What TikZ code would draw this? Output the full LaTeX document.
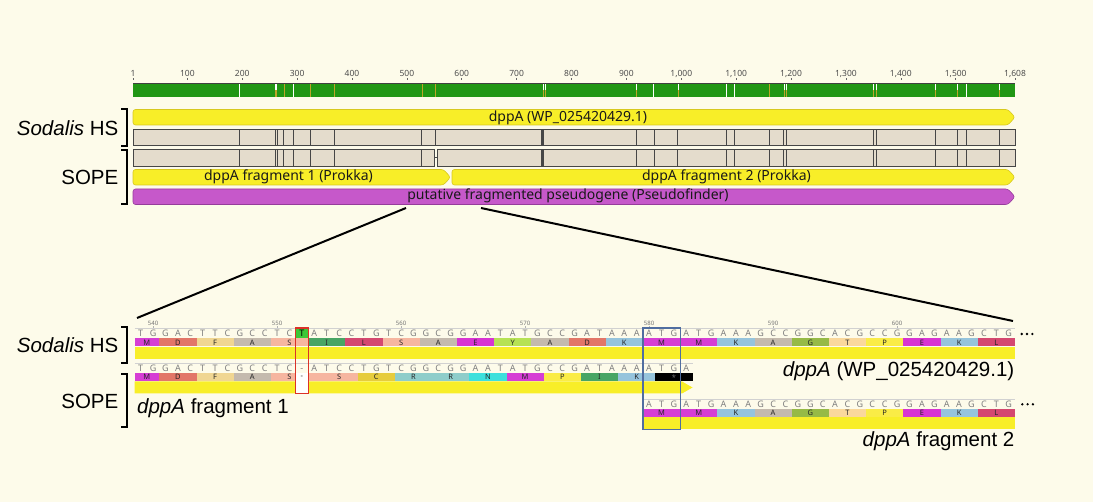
\documentclass[tikz,border=0pt]{standalone}
\usepackage{fontspec}
\setmainfont{Liberation Sans}
\newfontfamily\notosans{Noto Sans}
\definecolor{bgc}{RGB}{253,251,234}
\definecolor{rulergreen}{RGB}{33,150,20}
\definecolor{diffol}{RGB}{190,165,40}
\definecolor{grayblk}{RGB}{228,220,204}
\definecolor{glinec}{RGB}{70,70,70}
\definecolor{annyel}{RGB}{248,238,40}
\definecolor{annyelD}{RGB}{215,200,30}
\definecolor{pseudo}{RGB}{198,88,202}
\definecolor{pseudoD}{RGB}{150,60,155}
\definecolor{redbox}{RGB}{220,50,40}
\definecolor{bluebox}{RGB}{80,110,160}
\definecolor{hlgreen}{RGB}{60,200,55}
\definecolor{aaM}{RGB}{214,62,212}
\definecolor{aaD}{RGB}{226,118,104}
\definecolor{aaF}{RGB}{240,214,146}
\definecolor{aaA}{RGB}{196,186,174}
\definecolor{aaS}{RGB}{246,182,160}
\definecolor{aaI}{RGB}{72,165,100}
\definecolor{aaL}{RGB}{212,72,112}
\definecolor{aaE}{RGB}{216,52,210}
\definecolor{aaY}{RGB}{182,226,84}
\definecolor{aaK}{RGB}{150,196,220}
\definecolor{aaG}{RGB}{150,186,70}
\definecolor{aaT}{RGB}{250,216,156}
\definecolor{aaP}{RGB}{250,236,70}
\definecolor{aaC}{RGB}{230,204,60}
\definecolor{aaR}{RGB}{142,205,202}
\definecolor{aaN}{RGB}{62,224,220}
\newcounter{aacnt}
\newcommand\aablk[5]{%
 \stepcounter{aacnt}%
 \fill[fill=#4] ({134.5+(#1-1)*12.4},#5) rectangle ({134.5+#2*12.4},{#5+7.8});%
 \node[aalab] (aa\arabic{aacnt}) at ({134.5+(#1+#2-1)*6.2},{#5+3.9}) {#3};%
}
\newcommand\annarrow[6]{%
 \draw[#1] (#2,#5) -- (#3,#5) -- (#4,{(#5+#6)/2}) -- (#3,#6) -- (#2,#6) -- cycle;}
\tikzset{
 ticklab/.style={font=\notosans\fontsize{8.5}{9}\selectfont, text=black!70, inner sep=0, anchor=base},
 trklab/.style={font=\notosans\fontsize{14}{15}\selectfont, text=black!90, inner sep=0, anchor=base},
 biglab/.style={font=\fontsize{20.5}{22}\selectfont, inner sep=0, anchor=base east},
 brk/.style={line width=2pt, black},
 ntlab/.style={font=\notosans\fontsize{9}{9}\selectfont, inner sep=0, anchor=base},
 aalab/.style={font=\notosans\fontsize{7.5}{7.5}\selectfont, text=black!85, inner sep=0},
 poslab/.style={font=\notosans\fontsize{6}{6}\selectfont, text=black!55, inner sep=0, anchor=base},
 zoomline/.style={line width=2pt, black},
 yarrow/.style={fill=annyel, draw=annyelD, line width=0.6pt, rounded corners=2.5pt},
 parrow/.style={fill=pseudo, draw=pseudoD, line width=0.6pt, rounded corners=2.5pt},
 gblk/.style={fill=grayblk, draw=glinec, line width=1pt},
 gsep/.style={glinec, line width=1pt},
 ntline/.style={black!18, line width=0.6pt},
}
\begin{document}
\begin{tikzpicture}[x=1pt,y=-1pt]
\fill[bgc] (0,0) rectangle (1093,502);
\useasboundingbox (0,0) rectangle (1093,502);

% ---------- top ruler ----------
\fill[rulergreen] (133,83) rectangle (1015,97.5);
\foreach \x in {239.3,293.7,653.3,726.7,734,966}
  \draw[white, line width=0.9pt] (\x,84) -- (\x,97.5);
\foreach \x in {284,310,334.3,422,435.3,769}
  \draw[diffol, line width=0.9pt] (\x,84) -- (\x,97.5);
\foreach \x in {275.3,276.9,543,545,636.7,678.3,784,786.7,873.3,876.7,935,957.3,999.3}{
  \draw[white, line width=0.9pt] (\x,84) -- (\x,90);
  \draw[diffol, line width=0.9pt] (\x,90) -- (\x,97.5);}
\draw[black!75, line width=1pt] (133,83.5) -- (1015,83.5);
\foreach \n/\l in {1/1,100/100,200/200,300/300,400/400,500/500,600/600,700/700,800/800,900/900,1000/{1,000},1100/{1,100},1200/{1,200},1300/{1,300},1400/{1,400},1500/{1,500},1608/{1,608}}{
  \pgfmathsetmacro\xx{133+(\n-1)*0.54885}
  \node[ticklab] (tl\n) at (\xx,77) {\l};
  \draw[black!60, line width=0.6pt] (\xx,78.3) -- (\xx,80.5);
}

% ---------- top tracks ----------
\annarrow{yarrow}{133}{1008}{1015}{109.5}{125}
\node[trklab] (hsann) at (568,122) {dppA (WP\_025420429.1)};

\draw[gblk] (133,129.5) rectangle (1015,146);
\foreach \x in {239.3,275.7,277.3,283.3,293.3,310,334.7,421.7,435.3,636.7,654,677.7,726.7,734,769.3,783.3,786,873.3,876.7,935.3,957.7,966,999.3}
  \draw[gsep] (\x,129.5) -- (\x,146);
\draw[glinec, line width=2.4pt] (542.5,129.5) -- (542.5,146);

\draw[gblk] (133,149.5) rectangle (434.5,166.5);
\draw[gblk] (437,149.5) rectangle (1015,166.5);
\draw[gsep] (434.5,158) -- (437,158);
\foreach \x in {239.3,275.7,277.3,283.3,293.3,310,334.7,421.7,636.7,654,677.7,726.7,734,769.3,783.3,786,873.3,876.7,935.3,957.7,966,999.3}
  \draw[gsep] (\x,149.5) -- (\x,166.5);
\draw[glinec, line width=2.4pt] (542.5,149.5) -- (542.5,166.5);

\annarrow{yarrow}{133}{443.5}{450.5}{169.5}{185}
\node[trklab] (f1ann) at (288.5,181) {dppA fragment 1 (Prokka)};
\annarrow{yarrow}{452}{1008}{1015}{169.5}{185}
\node[trklab] (f2ann) at (726.5,181) {dppA fragment 2 (Prokka)};
\annarrow{parrow}{133}{1008}{1015}{189}{204.5}
\node[trklab] (psann) at (568,200) {putative fragmented pseudogene (Pseudofinder)};

% ---------- left labels and brackets ----------
\node[biglab] (lhs1) at (118.5,135.5) {\itshape Sodalis\upshape{} HS};
\node[biglab] (lsp1) at (118.5,185) {SOPE};
\node[biglab] (lhs2) at (118.5,352.3) {\itshape Sodalis\upshape{} HS};
\node[biglab] (lsp2) at (118.5,408.3) {SOPE};
\draw[brk] (121,109.5) -- (127,109.5) -- (127,146) -- (121,146);
\draw[brk] (121,150) -- (127,150) -- (127,204) -- (121,204);
\draw[brk] (121,326.7) -- (127,326.7) -- (127,363.3) -- (121,363.3);
\draw[brk] (121,374) -- (127,374) -- (127,426.7) -- (121,426.7);

% ---------- zoom lines ----------
\coordinate (zl1) at (406,208);
\coordinate (zl2) at (137,318);
\coordinate (zr1) at (481,208);
\coordinate (zr2) at (1013,321);
\draw[zoomline] (zl1) -- (zl2);
\draw[zoomline] (zr1) -- (zr2);

% ---------- bottom: Sodalis HS ----------
\draw[ntline] (134.5,328) -- (1015,328);
\foreach \p [count=\k from 0] in {540,550,560,570,580,590,600}{
  \pgfmathsetmacro\px{134.5+(1.5+10*\k)*12.4}
  \node[poslab] (pos\p) at (\px,325.5) {\p};
  \draw[black!30, line width=0.5pt] (\px,326.3) -- (\px,328);
}
\fill[hlgreen] (295.7,328.5) rectangle (308.1,338.3);
\foreach \c [count=\i] in {T,G,G,A,C,T,T,C,G,C,C,T,C,T,A,T,C,C,T,G,T,C,G,G,C,G,G,A,A,T,A,T,G,C,C,G,A,T,A,A,A,A,T,G,A,T,G,A,A,A,G,C,C,G,G,C,A,C,G,C,C,G,G,A,G,A,A,G,C,T,G}{
  \ifnum\i=14 \def\tc{black}\else\def\tc{black!50}\fi
  \node[ntlab, text=\tc] (hs\i) at ({134.5+(\i-0.5)*12.4},337) {\c};
}
\foreach \s/\e/\l/\c in {1/2/M/aaM,3/5/D/aaD,6/8/F/aaF,9/11/A/aaA,12/14/S/aaS,15/17/I/aaI,18/20/L/aaL,21/23/S/aaS,24/26/A/aaA,27/29/E/aaE,30/32/Y/aaY,33/35/A/aaA,36/38/D/aaD,39/41/K/aaK,42/44/M/aaM,45/47/M/aaM,48/50/K/aaK,51/53/A/aaA,54/56/G/aaG,57/59/T/aaT,60/62/P/aaP,63/65/E/aaE,66/68/K/aaK,69/71/L/aaL}
  {\aablk{\s}{\e}{\l}{\c}{338.5}}
\fill[annyel] (134.5,347) rectangle (1015,359);
\foreach \k in {0,1,2}
  \fill (1021.7+\k*5.3,334) circle (1.3);
\node[biglab, font=\fontsize{20.5}{22}\selectfont] (hslab) at (1014.5,376.5) {\itshape dppA\upshape{} (WP\_025420429.1)};

% ---------- bottom: SOPE fragment 1 ----------
\draw[ntline] (134.5,363.5) -- (692.5,363.5);
\foreach \c [count=\i] in {T,G,G,A,C,T,T,C,G,C,C,T,C,-,A,T,C,C,T,G,T,C,G,G,C,G,G,A,A,T,A,T,G,C,C,G,A,T,A,A,A,A,T,G,A}{
  \node[ntlab, text=black!50] (sp\i) at ({134.5+(\i-0.5)*12.4},371.5) {\c};
}
\foreach \s/\e/\l/\c in {1/2/M/aaM,3/5/D/aaD,6/8/F/aaF,9/11/A/aaA,12/13/{}/aaS,15/18/{}/aaS,19/21/C/aaC,22/24/R/aaR,25/27/R/aaR,28/30/N/aaN,31/33/M/aaM,34/36/P/aaP,37/39/I/aaI,40/42/K/aaK,43/45/{}/black}
  {\aablk{\s}{\e}{\l}{\c}{373.3}}
\node[aalab] (spS1) at (289.5,377.2) {S};
\node[aalab] (spS2) at (339.1,377.2) {S};
\node[aalab, text=black!55] (spstop) at (674,377.2) {*};
\fill[white] (295.7,373.3) rectangle (308.1,381.1);
\node[aalab] (spgap) at (301.9,377.2) {-};
\fill[annyel] (134.5,381.5) -- (682,381.5) -- (692.5,387.5) -- (682,393.5) -- (134.5,393.5) -- cycle;
\fill[white] (295.7,381.5) rectangle (308.1,393.5);
\node[biglab, anchor=base west] (f1lab) at (137,414) {\itshape dppA\upshape{} fragment 1};

% ---------- bottom: SOPE fragment 2 ----------
\draw[ntline] (642.9,399.3) -- (1015,399.3);
\foreach \c [count=\i from 42] in {A,T,G,A,T,G,A,A,A,G,C,C,G,G,C,A,C,G,C,C,G,G,A,G,A,A,G,C,T,G}{
  \node[ntlab, text=black!50] (fr\i) at ({134.5+(\i-0.5)*12.4},407.5) {\c};
}
\foreach \s/\e/\l/\c in {42/44/M/aaM,45/47/M/aaM,48/50/K/aaK,51/53/A/aaA,54/56/G/aaG,57/59/T/aaT,60/62/P/aaP,63/65/E/aaE,66/68/K/aaK,69/71/L/aaL}
  {\aablk{\s}{\e}{\l}{\c}{409.2}}
\fill[annyel] (642.9,417.5) rectangle (1015,429.5);
\foreach \k in {0,1,2}
  \fill (1022.3+\k*5.3,404.3) circle (1.3);
\node[biglab] (f2lab) at (1014.5,447) {\itshape dppA\upshape{} fragment 2};

% ---------- highlight boxes ----------
\draw[redbox, line width=1.3pt] (295.5,328) rectangle (308.5,393.5);
\draw[bluebox, line width=1.2pt] (642.9,328) rectangle (680.1,429.5);
\end{tikzpicture}
\end{document}
